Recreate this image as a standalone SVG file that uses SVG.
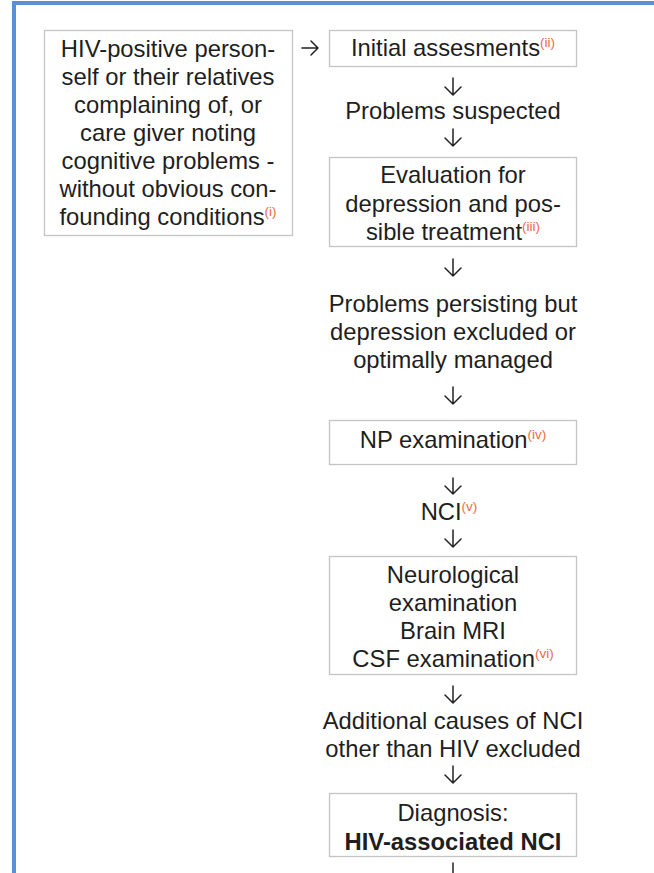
<svg xmlns="http://www.w3.org/2000/svg" width="654" height="873" viewBox="0 0 654 873">
<style>
.t{font-family:"Liberation Sans",Arial,sans-serif;font-size:23.8px;fill:#1e1e1e;text-anchor:middle}
.b{font-weight:bold}
.s{font-size:13.5px;fill:#ee6a45}
.box{fill:#fff;stroke:#c4c4c4;stroke-width:1.3}
.ar{fill:none;stroke:#222;stroke-width:1.5;stroke-linecap:round;stroke-linejoin:round}
</style>
<rect x="0" y="0" width="654" height="873" fill="#fff"/>
<path d="M14 873 V3 H660" fill="none" stroke="#5b8fd6" stroke-width="4"/>
<g id="n1"><rect class="box" x="44.5" y="30.5" width="248" height="205"/>
<text class="t" x="168" y="57">HIV-positive person-</text>
<text class="t" x="168" y="85">self or their relatives</text>
<text class="t" x="168" y="113">complaining of, or</text>
<text class="t" x="168" y="141">care giver noting</text>
<text class="t" x="168" y="169">cognitive problems -</text>
<text class="t" x="168" y="197">without obvious con-</text>
<text class="t" x="168" y="225">founding conditions<tspan class="s" dy="-9">(i)</tspan></text></g>
<g id="n2"><rect class="box" x="329.5" y="30.5" width="247" height="36"/>
<text class="t" x="453" y="56">Initial assesments<tspan class="s" dy="-9">(ii)</tspan></text></g>
<g id="n3"><text class="t" x="453" y="119">Problems suspected</text></g>
<g id="n4"><rect class="box" x="329.5" y="157.5" width="247" height="89"/>
<text class="t" x="453" y="183">Evaluation for</text>
<text class="t" x="453" y="212">depression and pos-</text>
<text class="t" x="453" y="240">sible treatment<tspan class="s" dy="-9">(iii)</tspan></text></g>
<g id="n5"><text class="t" x="453" y="312">Problems persisting but</text>
<text class="t" x="453" y="340">depression excluded or</text>
<text class="t" x="453" y="368">optimally managed</text></g>
<g id="n6"><rect class="box" x="329.5" y="420.5" width="247" height="44"/>
<text class="t" x="453" y="448">NP examination<tspan class="s" dy="-9">(iv)</tspan></text></g>
<g id="n7"><text class="t" x="449" y="520">NCI<tspan class="s" dy="-9">(v)</tspan></text></g>
<g id="n8"><rect class="box" x="329.5" y="556.5" width="247" height="118"/>
<text class="t" x="453" y="583">Neurological</text>
<text class="t" x="453" y="611">examination</text>
<text class="t" x="453" y="639">Brain MRI</text>
<text class="t" x="453" y="667">CSF examination<tspan class="s" dy="-9">(vi)</tspan></text></g>
<g id="n9"><text class="t" x="453" y="729">Additional causes of NCI</text>
<text class="t" x="453" y="757">other than HIV excluded</text></g>
<g id="n10"><rect class="box" x="329.5" y="793.5" width="247" height="63"/>
<text class="t" x="453" y="821">Diagnosis:</text>
<text class="t b" x="453" y="850">HIV-associated NCI</text></g>
<g id="connectors">
<path class="ar" d="M302 48 H318 M311 41 L318 48 L311 55"/>
<path class="ar" d="M453 78 V95 M445 87 L453 95 L461 87"/>
<path class="ar" d="M453 129 V146 M445 138 L453 146 L461 138"/>
<path class="ar" d="M453 259 V276 M445 268 L453 276 L461 268"/>
<path class="ar" d="M453 387 V404 M445 396 L453 404 L461 396"/>
<path class="ar" d="M453 478 V494 M445 486 L453 494 L461 486"/>
<path class="ar" d="M453 530 V547 M445 539 L453 547 L461 539"/>
<path class="ar" d="M453 686 V703 M445 695 L453 703 L461 695"/>
<path class="ar" d="M453 766 V783 M445 775 L453 783 L461 775"/>
<path class="ar" d="M453 863 V875"/>
</g>
</svg>
